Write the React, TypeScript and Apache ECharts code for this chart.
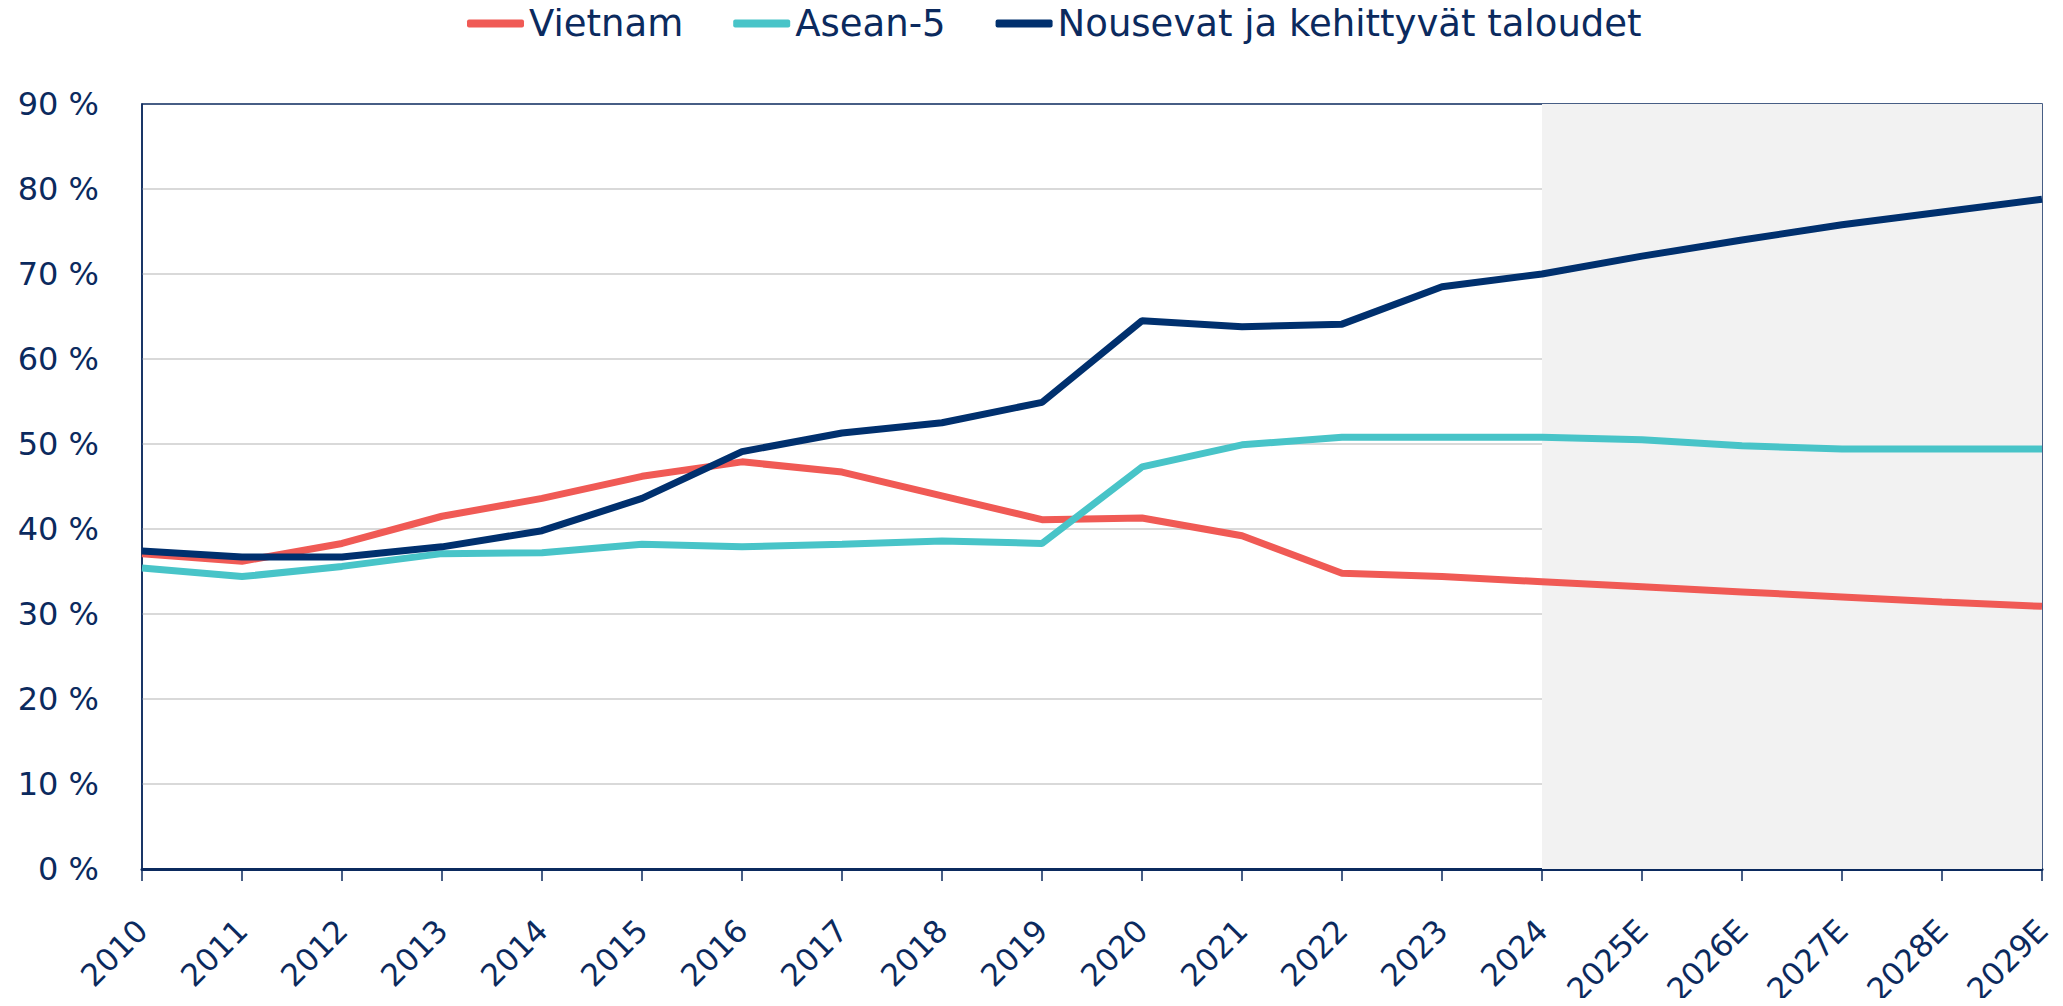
import React, { useEffect, useRef } from "react";
import * as echarts from "echarts";

const categories = ["2010", "2011", "2012", "2013", "2014", "2015", "2016", "2017", "2018", "2019", "2020", "2021", "2022", "2023", "2024", "2025E", "2026E", "2027E", "2028E", "2029E"];
const vietnam = [37.1, 36.2, 38.3, 41.5, 43.6, 46.2, 47.9, 46.7, 43.9, 41.1, 41.3, 39.2, 34.8, 34.4, 33.8, 33.2, 32.6, 32.0, 31.4, 30.9];
const asean5 = [35.4, 34.4, 35.6, 37.1, 37.2, 38.2, 37.9, 38.2, 38.6, 38.3, 47.3, 49.9, 50.8, 50.8, 50.8, 50.5, 49.8, 49.4, 49.4, 49.4];
const emerging = [37.4, 36.7, 36.7, 37.9, 39.8, 43.6, 49.1, 51.3, 52.5, 54.9, 64.5, 63.8, 64.1, 68.5, 70.0, 72.1, 74.0, 75.8, 77.3, 78.8];
const seriesNames = ["Vietnam", "Asean-5", "Nousevat ja kehittyvät taloudet"];
const forecastStart = "2024";
const forecastEnd = "2029E";

const NAVY = "#0b2a5e";
const FONT = "'DejaVu Sans', sans-serif";

export default function App() {
  const ref = useRef<HTMLDivElement>(null);
  useEffect(() => {
    if (!ref.current) return;
    const chart = echarts.init(ref.current, null, { renderer: "svg" });
    chart.setOption({
      animation: false,
      textStyle: { fontFamily: FONT },
      legend: {
        top: 0,
        left: 462,
        data: seriesNames,
        icon: "roundRect",
        itemWidth: 57,
        itemHeight: 8,
        itemGap: 50,
        textStyle: { color: NAVY, fontSize: 37, fontFamily: FONT },
      },
      grid: {
        left: 142,
        right: 21,
        top: 104,
        bottom: 137,
        show: true,
        borderColor: NAVY,
        borderWidth: 1.5,
        backgroundColor: "transparent",
        outerBoundsMode: "none",
        containLabel: false,
      },
      xAxis: {
        type: "category",
        data: categories,
        boundaryGap: false,
        axisLine: { show: true, lineStyle: { color: NAVY, width: 3 } },
        axisTick: { show: true, length: 12, lineStyle: { color: NAVY, width: 1.5 } },
        axisLabel: {
          color: NAVY,
          fontSize: 31,
          rotate: 45,
          margin: 56,
          interval: 0,
          fontFamily: FONT,
        },
        splitLine: { show: false },
      },
      yAxis: {
        type: "value",
        min: 0,
        max: 90,
        interval: 10,
        axisLine: { show: true, lineStyle: { color: NAVY, width: 1.5 } },
        axisTick: { show: false },
        axisLabel: {
          color: NAVY,
          fontSize: 32,
          margin: 43,
          formatter: "{value} %",
          fontFamily: FONT,
        },
        splitLine: { show: true, showMinLine: false, showMaxLine: false, lineStyle: { color: "#d9d9d9", width: 2 } },
      },
      series: [
        {
          type: "line",
          name: "__forecast",
          data: [],
          z: -1,
          silent: true,
          markArea: {
            silent: true,
            itemStyle: { color: "#f2f2f2" },
            data: [[{ xAxis: forecastStart }, { xAxis: forecastEnd }]],
          },
        },
        {
          type: "line",
          name: seriesNames[0],
          data: vietnam,
          showSymbol: false,
          symbol: "none",
          lineStyle: { color: "#f05a55", width: 7 },
          itemStyle: { color: "#f05a55" },
          z: 3,
        },
        {
          type: "line",
          name: seriesNames[1],
          data: asean5,
          showSymbol: false,
          symbol: "none",
          lineStyle: { color: "#48c4c8", width: 7 },
          itemStyle: { color: "#48c4c8" },
          z: 3,
        },
        {
          type: "line",
          name: seriesNames[2],
          data: emerging,
          showSymbol: false,
          symbol: "none",
          lineStyle: { color: "#00306e", width: 7 },
          itemStyle: { color: "#00306e" },
          z: 4,
        },
      ],
    });
    return () => chart.dispose();
  }, []);
  return <div ref={ref} style={{ width: 2063, height: 1006, margin: -8 }} />;
}
